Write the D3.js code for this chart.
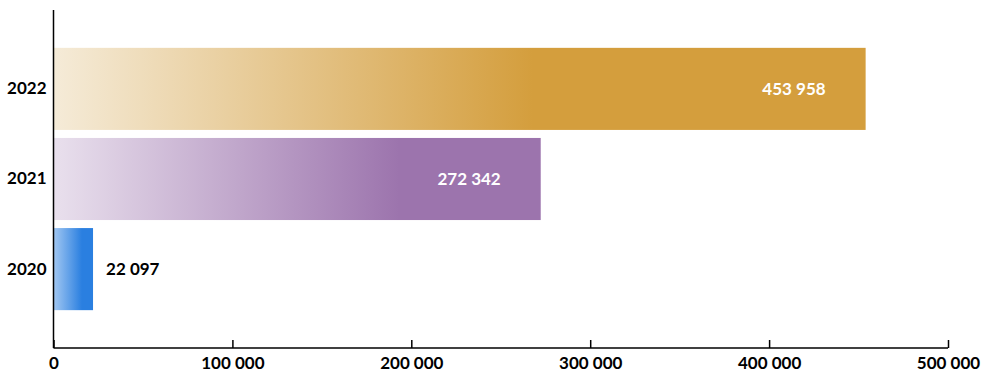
<!DOCTYPE html>
<html><head><meta charset="utf-8">
<script src="https://cdn.jsdelivr.net/npm/d3@7"></script>
<style>
body{margin:0;background:#fff;}
text{font-family:"Lato","Open Sans",sans-serif;font-weight:700;}
</style></head>
<body><svg id="c" width="982" height="374"></svg>
<script>
const years = ["2022","2021","2020"];
const values = [453958, 272342, 22097];
const xTicks = [0,100000,200000,300000,400000,500000];

const barColors = ["#d49e3d","#9c74ad","#2a7fe0"];
const barLight = ["#f5ebd8","#e9e0ed","#a3c8f2"];
const gradStop = [0.59,0.71,0.72];

const svg = d3.select("#c");
const x = d3.scaleLinear().domain([0,500000]).range([53.5,948]);
const y = d3.scaleBand().domain(years).range([10,348]).paddingInner(0.089).paddingOuter(0.42);
const fmt = v => d3.format(",")(v).replace(/,/g," ");

const defs = svg.append("defs");
years.forEach((yr,i)=>{
  const g = defs.append("linearGradient").attr("id","g"+i).attr("x1","0").attr("x2","1").attr("y1","0").attr("y2","0");
  g.append("stop").attr("offset",0).attr("stop-color",barLight[i]);
  g.append("stop").attr("offset",gradStop[i]).attr("stop-color",barColors[i]);
  g.append("stop").attr("offset",1).attr("stop-color",barColors[i]);
});

svg.selectAll("rect.bar").data(years).join("rect").attr("class","bar")
  .attr("x",x(0)).attr("y",d=>y(d)).attr("height",y.bandwidth())
  .attr("width",(d,i)=>x(values[i])-x(0))
  .attr("fill",(d,i)=>`url(#g${i})`);

// value labels
svg.selectAll("text.val").data(years).join("text").attr("class","val")
  .attr("x",(d,i)=> values[i] > 100000 ? x(values[i]) - 40 : x(values[i]) + 13)
  .attr("y",d=>y(d)+y.bandwidth()/2)
  .attr("dy","0.36em")
  .attr("text-anchor",(d,i)=> values[i] > 100000 ? "end" : "start")
  .attr("fill",(d,i)=> values[i] > 100000 ? "#fff" : "#000")
  .style("font-size","17px")
  .text((d,i)=>fmt(values[i]));

// x axis
const xa = svg.append("g").attr("transform","translate(0,348)")
  .call(d3.axisBottom(x).tickValues(xTicks).tickSize(-8).tickPadding(9).tickFormat(fmt));
xa.select(".domain").attr("stroke","#000").attr("stroke-width",1.5).attr("d",`M${x(0)},0H${x(500000)}`);
xa.selectAll(".tick line").attr("stroke","#000").attr("stroke-width",1.5);
xa.selectAll(".tick text").attr("fill","#000").style("font-size","17px").attr("font-family",null);

// y axis
const ya = svg.append("g").attr("transform",`translate(${x(0)},0)`)
  .call(d3.axisLeft(y).tickSize(0).tickPadding(7));
ya.select(".domain").attr("stroke","#000").attr("stroke-width",1.5).attr("d","M0,10V348");
ya.selectAll(".tick text").attr("fill","#000").style("font-size","17px").attr("font-family",null);
</script>
</body></html>
